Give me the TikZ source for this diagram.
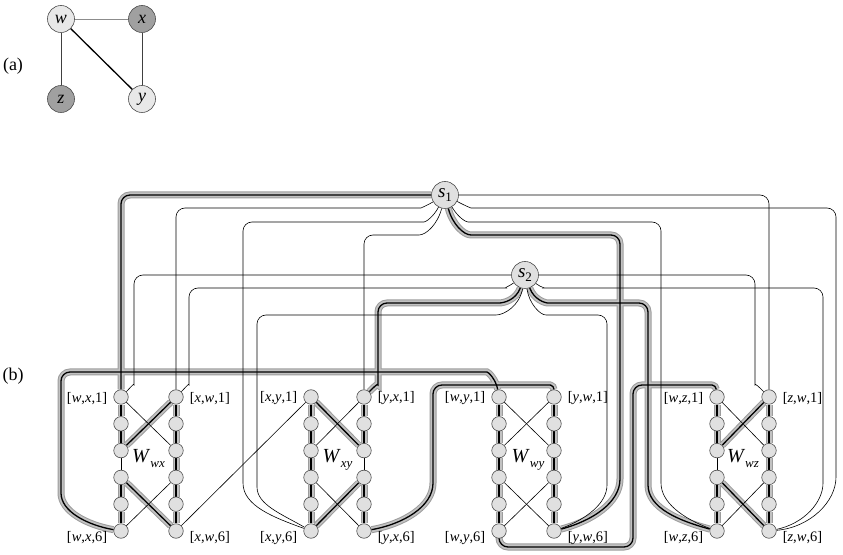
\documentclass[tikz,border=0pt]{standalone}
\usepackage{fontspec}
\setmainfont{Liberation Serif}
\pgfdeclarelayer{bg}
\pgfsetlayers{bg,main}
\definecolor{lite}{HTML}{E0E0E0}
\definecolor{alite}{HTML}{E8E8E8}
\definecolor{dark}{HTML}{A0A0A0}
\definecolor{haloedge}{HTML}{9C9C9C}
\definecolor{halo}{HTML}{C2C2C2}
\newcommand{\lab}[3]{[\textit{#1},\textit{#2},#3]}
\newcommand{\wlab}[1]{\fontsize{20}{20}\selectfont\textit{W}\raisebox{-4.5pt}{\fontsize{13}{13}\selectfont\textit{#1}}}
\newcommand{\slab}[1]{\fontsize{19}{19}\selectfont\textit{s}\raisebox{-3.5pt}{\fontsize{13}{13}\selectfont #1}}
\newcommand{\HLpaths}[1]{%
  \draw[#1,rc] (wxL6) to[out=170,in=-90] (61,70) -- (61,182) -- (478,182) to[out=0,in=100] (wyL1);
  \draw[#1,rc] (xyR6) to[out=10,in=-90] (433,80) -- (433,169) -- (542,169) to[out=0,in=90] (wyR1);
  \draw[#1,rc] (wyL6) -- (499,7) -- (633,7) -- (633,169) -- (703,169) to[out=0,in=95] (wzL1);
  \draw[#1,rc] (s1) -- (121,359) -- (wxL1);
  \draw[#1,rc] (s1.-76) to[out=-76,in=180] (480,319) -- (620,319) -- (620,84) to[out=-90,in=15] (wyR6);
  \draw[#1,rc] (s2.-110) to[out=-110,in=0] (490,251) -- (378,251) -- (378,178) to[out=-90,in=45] (xyR1);
  \draw[#1,rc] (s2.-70) to[out=-70,in=180] (557,251) -- (648,251) -- (648,78) to[out=-90,in=165] (wzL6);
  \foreach \g in {wx,wz}{%
    \foreach \a/\b in {L1/L2,L2/L3,L4/L5,L5/L6,R1/R2,R2/R3,R3/R4,R4/R5,R5/R6,L3/R1,L4/R6}{%
      \draw[#1] (\g\a) -- (\g\b);}}
  \foreach \a/\b in {R1/R2,R2/R3,R4/R5,R5/R6,L1/L2,L2/L3,L3/L4,L4/L5,L5/L6,R3/L1,L6/R4}{%
    \draw[#1] (xy\a) -- (xy\b);}
  \foreach \a/\b in {L1/L2,L2/L3,L3/L4,L4/L5,L5/L6,R1/R2,R2/R3,R3/R4,R4/R5,R5/R6}{%
    \draw[#1] (wy\a) -- (wy\b);}
}
\begin{document}
\begin{tikzpicture}[x=1pt,y=1pt,
  vtx/.style={circle, draw=black!70, fill=lite, line width=0.6pt, minimum size=14.5pt, inner sep=0pt},
  svtx/.style={circle, draw=black!70, fill=lite, line width=0.6pt, minimum size=27pt, inner sep=0pt},
  avtx/.style={circle, draw=black!70, line width=0.6pt, minimum size=27pt, inner sep=0pt, font=\fontsize{18}{18}\selectfont\itshape},
  lbl/.style={inner sep=0pt, font=\fontsize{14.5}{14.5}\selectfont},
  ln/.style={draw=black, line width=0.6pt},
  hlo/.style={draw=haloedge, line width=7pt},
  hlm/.style={draw=halo, line width=5pt},
  hli/.style={draw=black, line width=1.3pt},
  rc/.style={rounded corners=9pt},
]
\useasboundingbox (0,0) rectangle (843,554);

% ---------- (a) ----------
\node[font=\fontsize{18}{18}\selectfont] (la) at (13,488) {(a)};
\node[avtx, fill=alite] (aw) at (61,535) {w};
\node[avtx, fill=dark] (ax) at (142,535) {x};
\node[avtx, fill=dark] (az) at (61,455) {z};
\node[avtx, fill=alite] (ay) at (142,455) {y};
\draw[draw=black!45, line width=0.6pt] (aw) -- (ax);
\draw[draw=black!75, line width=0.6pt] (aw) -- (az);
\draw[draw=black!75, line width=0.6pt] (ax) -- (ay);
\draw[draw=black, line width=1.3pt] (aw) -- (ay);

% ---------- (b) ----------
\node[font=\fontsize{18}{18}\selectfont] (lb) at (13,178) {(b)};

\foreach \g/\lx/\rx in {wx/121/176, xy/311/364, wy/499/554, wz/717/769}{
  \foreach \i in {1,...,6}{
    \node[vtx] (\g L\i) at (\lx,{157-(\i-1)*26.8}) {};
    \node[vtx] (\g R\i) at (\rx,{157-(\i-1)*26.8}) {};
  }
}
\node[svtx] (s1) at (445,359) {\slab{1}};
\node[svtx] (s2) at (525,279) {\slab{2}};

% labels
\foreach \g/\u/\v in {wx/w/x, xy/x/y, wy/w/y, wz/w/z}{
  \node[lbl, anchor=east] (t\g L1) at ([xshift=-6pt,yshift=-1.5pt]\g L1.west) {\lab{\u}{\v}{1}};
  \node[lbl, anchor=west] (t\g R1) at ([xshift=6pt,yshift=-1.5pt]\g R1.east) {\lab{\v}{\u}{1}};
  \node[lbl, anchor=east] (t\g L6) at ([xshift=-6pt,yshift=-7pt]\g L6.west) {\lab{\u}{\v}{6}};
  \node[lbl, anchor=west] (t\g R6) at ([xshift=6pt,yshift=-7pt]\g R6.east) {\lab{\v}{\u}{6}};
}
\node[anchor=base, inner sep=0pt] (Wwx) at (148.5,91) {\wlab{wx}};
\node[anchor=base, inner sep=0pt] (Wxy) at (337.5,91) {\wlab{xy}};
\node[anchor=base, inner sep=0pt] (Wwy) at (528,91) {\wlab{wy}};
\node[anchor=base, inner sep=0pt] (Wwz) at (743,91) {\wlab{wz}};

\begin{pgfonlayer}{bg}
\HLpaths{hlo}
\HLpaths{hlm}
\HLpaths{hli}
% thin widget edges
\foreach \g in {wx,wz}{
  \foreach \a/\b in {L3/L4,L1/R3,R4/L6}{\draw[ln] (\g\a) -- (\g\b);}}
\foreach \a/\b in {R3/R4,R1/L3,L4/R6}{\draw[ln] (xy\a) -- (xy\b);}
\foreach \a/\b in {L1/R3,R1/L3,L4/R6,R4/L6}{\draw[ln] (wy\a) -- (wy\b);}
% thin connectors
\draw[ln] (wxR6) -- (xyL1);
\draw[ln,rc] (s1.-150) to[out=-150,in=0] (412,346) -- (176,346) -- (wxR1);
\draw[ln,rc] (s1.-118) to[out=-118,in=0] (415,332) -- (243,332) -- (243,80) to[out=-90,in=160] (xyL6);
\draw[ln,rc] (s1.-104) to[out=-104,in=0] (410,319) -- (364,319) -- (xyR1);
\draw[ln,rc] (s1) -- (769,359) -- (wzR1);
\draw[ln,rc] (s1.-28) to[out=-28,in=180] (480,346) -- (836,346) -- (836,86) to[out=-90,in=5] (wzR6);
\draw[ln,rc] (s1.-60) to[out=-60,in=180] (477,332) -- (661,332) -- (661,80) to[out=-90,in=160] (wzL6);
\draw[ln,rc] (s2) -- (134,279) -- (134,178) to[out=-90,in=45] (wxL1);
\draw[ln,rc] (s2.-145) to[out=-145,in=0] (497,266) -- (189,266) -- (189,178) to[out=-90,in=45] (wxR1);
\draw[ln,rc] (s2.-100) to[out=-100,in=0] (487,239) -- (257,239) -- (257,76) to[out=-90,in=150] (xyL6);
\draw[ln,rc] (s2) -- (755,279) -- (755,178) to[out=-90,in=135] (wzR1);
\draw[ln,rc] (s2.-38) to[out=-38,in=180] (553,266) -- (823,266) -- (823,80) to[out=-90,in=12] (wzR6);
\draw[ln,rc] (s2.-82) to[out=-82,in=180] (555,239) -- (607,239) -- (607,78) to[out=-90,in=20] (wyR6);
\end{pgfonlayer}
\end{tikzpicture}
\end{document}
